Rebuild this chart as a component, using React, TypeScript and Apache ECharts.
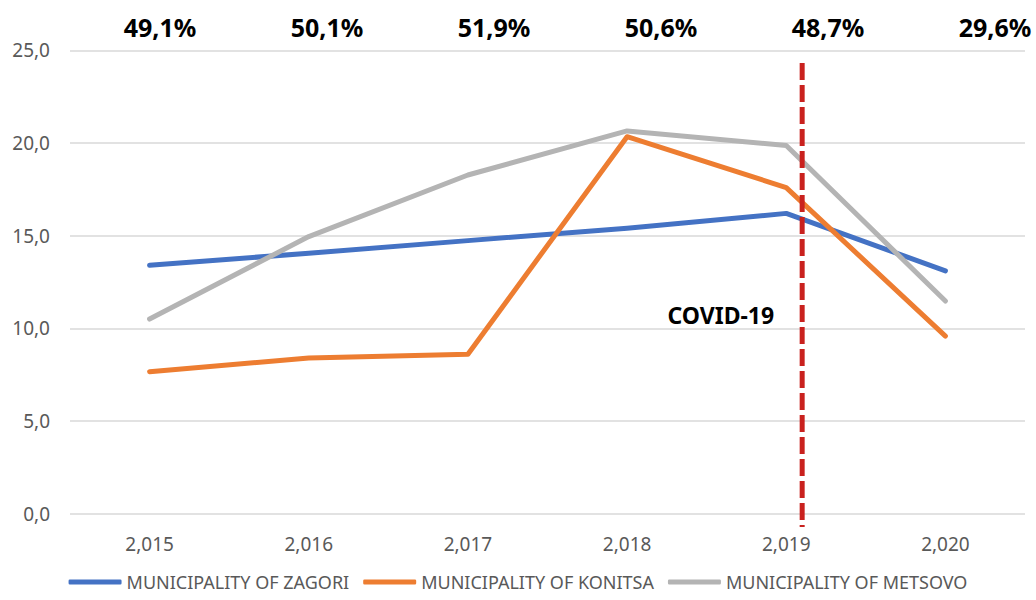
import React, { useEffect, useRef } from "react";
import * as echarts from "echarts";

const categories = ["2,015", "2,016", "2,017", "2,018", "2,019", "2,020"];
const seriesNames = [
  "MUNICIPALITY OF ZAGORI",
  "MUNICIPALITY OF KONITSA",
  "MUNICIPALITY OF METSOVO",
];
const zagori = [13.4, 14.05, 14.73, 15.4, 16.2, 13.1];
const konitsa = [7.66, 8.4, 8.6, 20.34, 17.59, 9.58];
const metsovo = [10.5, 14.95, 18.27, 20.65, 19.86, 11.47];
const shareLabels = ["49,1%", "50,1%", "51,9%", "50,6%", "48,7%", "29,6%"];
const covidLabel = "COVID-19";
const covidPosition = 4.1; // position along the category axis (index units)
const covidRange = [24.32, -0.72];

const colors = ["#4472C4", "#ED7D31", "#B4B4B4"];
const FONT = '"Noto Sans", "Open Sans", sans-serif';

export default function App() {
  const ref = useRef<HTMLDivElement | null>(null);

  useEffect(() => {
    document.body.style.margin = "0";
    if (!ref.current) return;
    const chart = echarts.init(ref.current, undefined, { renderer: "svg" });
    const values = [zagori, konitsa, metsovo];

    const option: any = {
      animation: false,
      backgroundColor: "#ffffff",
      grid: { left: 70, right: 11, top: 50.3, bottom: 86.4, containLabel: false },
      xAxis: [
        {
          type: "category",
          data: categories,
          boundaryGap: true,
          axisLine: { show: false },
          axisTick: { show: false },
          axisLabel: { color: "#595959", fontSize: 19, fontFamily: FONT, margin: 21 },
          splitLine: { show: false },
        },
        {
          type: "value",
          min: -0.5,
          max: 5.5,
          show: false,
        },
      ],
      yAxis: {
        type: "value",
        min: 0,
        max: 25,
        interval: 5,
        axisLine: { show: false },
        axisTick: { show: false },
        axisLabel: {
          color: "#595959",
          fontSize: 19,
          fontFamily: FONT,
          margin: 20,
          formatter: (v: number) => v.toFixed(1).replace(".", ","),
        },
        splitLine: { lineStyle: { color: "#D9D9D9", width: 1.5 } },
      },
      legend: {
        data: seriesNames,
        top: 573,
        left: "center",
        padding: 0,
        icon: "roundRect",
        itemWidth: 53,
        itemHeight: 5,
        itemGap: 14,
        textStyle: { color: "#595959", fontSize: 18, lineHeight: 18, fontFamily: FONT },
      },
      series: [
        ...seriesNames.map((name, i) => ({
          name,
          type: "line",
          data: values[i],
          symbol: "none",
          color: colors[i],
          lineStyle: { color: colors[i], width: 5, cap: "round", join: "round" },
          z: 3 + i,
        })),
        {
          name: "covid",
          type: "line",
          xAxisIndex: 1,
          data: [
            [covidPosition, covidRange[0]],
            [covidPosition, covidRange[1]],
          ],
          symbol: "none",
          clip: false,
          silent: true,
          color: "#C9211E",
          lineStyle: { color: "#C9211E", width: 5, type: [17, 5], cap: "butt" },
          z: 10,
        },
      ],
    };
    chart.setOption(option);

    const graphics: any[] = shareLabels.map((t, i) => ({
      type: "text",
      x: 160 + i * 167,
      y: 27,
      style: {
        text: t,
        fill: "#000000",
        fontSize: 25,
        fontWeight: "bold",
        fontFamily: FONT,
        align: "center",
        verticalAlign: "middle",
      },
    }));
    const px = chart.convertToPixel({ xAxisIndex: 1, yAxisIndex: 0 } as any, [covidPosition, 10.5]) as number[];
    graphics.push({
      type: "text",
      x: px[0] - 28,
      y: 315,
      style: {
        text: covidLabel,
        fill: "#000000",
        fontSize: 23,
        fontWeight: "bold",
        fontFamily: FONT,
        align: "right",
        verticalAlign: "middle",
      },
    });
    chart.setOption({ graphic: graphics });

    return () => chart.dispose();
  }, []);

  return <div ref={ref} style={{ width: 1036, height: 600 }} />;
}
